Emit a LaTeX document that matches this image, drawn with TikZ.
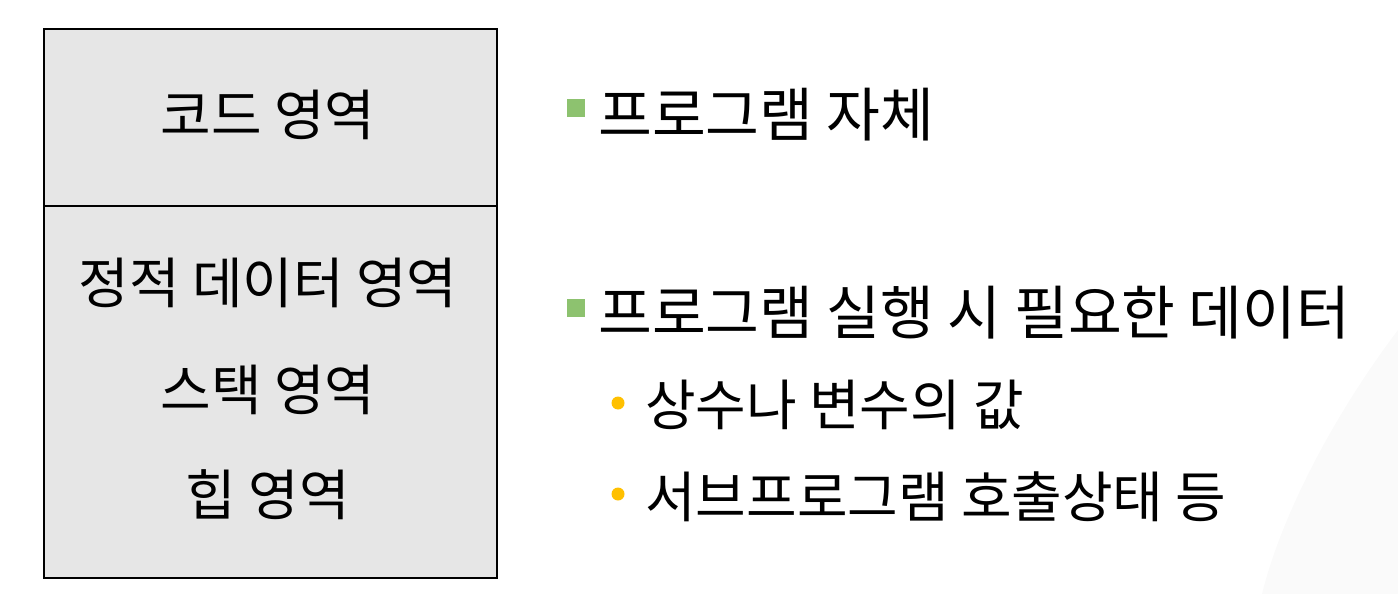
\documentclass[tikz,border=0pt]{standalone}
\usepackage{fontspec}
\setmainfont{Noto Sans CJK KR}
\definecolor{boxgray}{HTML}{E6E6E6}
\definecolor{bulgreen}{HTML}{8DC26F}
\definecolor{bulyellow}{HTML}{FFC000}
\definecolor{faintgray}{HTML}{FAFAFA}
\tikzset{
  lbl/.style={font=\fontsize{55}{60}\selectfont, inner sep=0pt},
  rtxt/.style={font=\fontsize{58.5}{62}\selectfont, inner sep=0pt, anchor=west},
  stxt/.style={font=\fontsize{55}{60}\selectfont, inner sep=0pt, anchor=west},
  sq/.style={fill=bulgreen, minimum size=18pt, inner sep=0pt},
  dot/.style={circle, fill=bulyellow, minimum size=13pt, inner sep=0pt},
  frame/.style={draw=black, line width=2pt}
}
\begin{document}
\begin{tikzpicture}[x=1pt,y=-1pt]
\useasboundingbox (0,0) rectangle (1398,594);
\fill[faintgray] (1398,330) .. controls (1330,420) and (1280,520) .. (1262,594) -- (1398,594) -- cycle;
\node[frame, fill=boxgray, minimum width=453pt, minimum height=177pt, anchor=north west, inner sep=0pt] (code) at (43,28) {};
\node[frame, fill=boxgray, minimum width=453pt, minimum height=372pt, anchor=north west, inner sep=0pt] (data) at (43,205) {};
\node[lbl] (t1) at (268,115) {코드 영역};
\node[lbl] (t2) at (268,283) {정적 데이터 영역};
\node[lbl] (t3) at (268,390) {스택 영역};
\node[lbl] (t4) at (268,495) {힙 영역};
\node[sq] (b1) at (576,108) {};
\node[rtxt] (r1) at (598,115) {프로그램 자체};
\node[sq] (b2) at (576,308) {};
\node[rtxt] (r2) at (598,313) {프로그램 실행 시 필요한 데이터};
\node[dot] (d1) at (618,403) {};
\node[stxt] (r3) at (645,405) {상수나 변수의 값};
\node[dot] (d2) at (618,494) {};
\node[stxt] (r4) at (645,497) {서브프로그램 호출상태 등};
\end{tikzpicture}
\end{document}
